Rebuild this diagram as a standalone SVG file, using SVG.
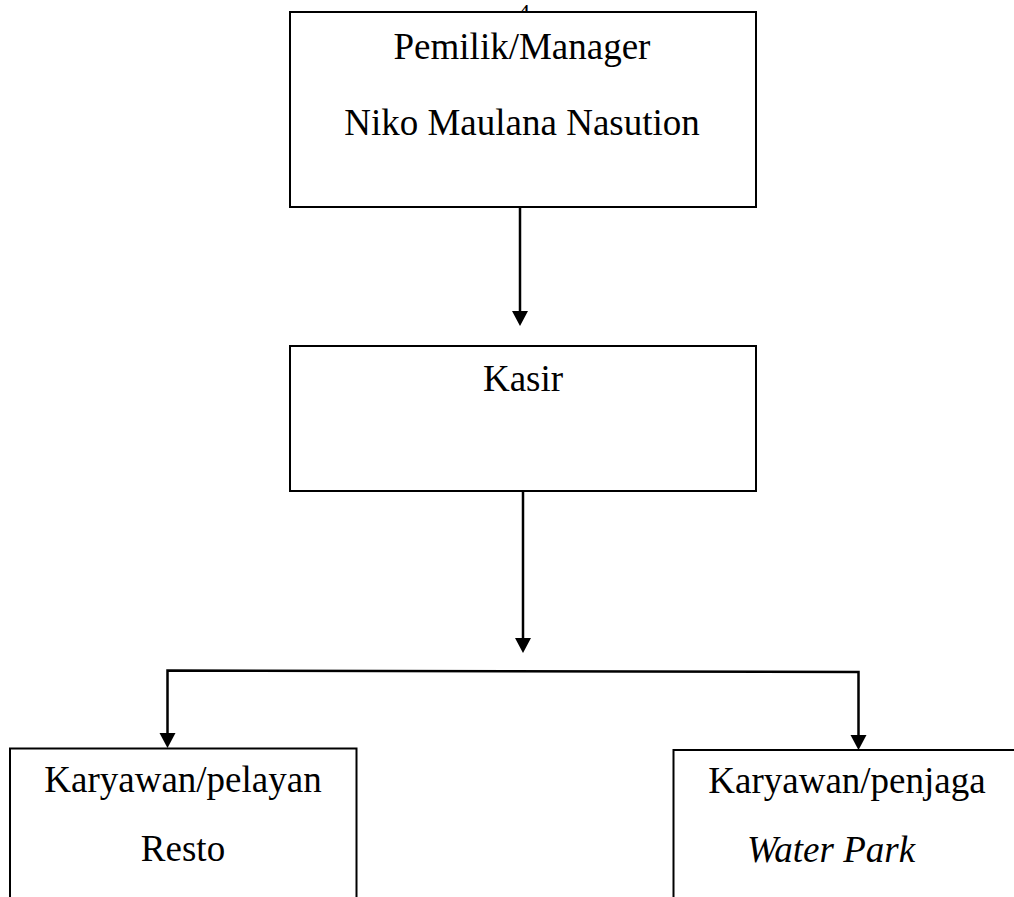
<svg xmlns="http://www.w3.org/2000/svg" width="1014" height="897" viewBox="0 0 1014 897">
<defs>
<style>
.box{fill:#fff;stroke:#000;stroke-width:2}
.t{font-family:"Liberation Serif","Times New Roman",serif;font-size:37px;fill:#000;text-anchor:middle}
.it{font-style:italic}
.c{fill:none;stroke:#000;stroke-width:2.5}
</style>
</defs>
<rect width="1014" height="897" fill="#fff"/>
<text x="524" y="20" style="font-family:'Liberation Serif',serif;font-size:24px" text-anchor="middle">4</text>
<g id="connectors">
<line class="c" x1="520" y1="207" x2="520" y2="311" />
<path d="M512,311 L528,311 L520,326 Z" fill="#000"/>
<line class="c" x1="523" y1="491" x2="523" y2="638" />
<path d="M515,638 L531,638 L523,653 Z" fill="#000"/>
<polyline class="c" points="167.5,733 167.5,670.5 858.5,672 858.5,735" />
<path d="M159.5,733 L175.5,733 L167.5,748 Z" fill="#000"/>
<path d="M850.5,735 L866.5,735 L858.5,750 Z" fill="#000"/>
</g>
<g id="node-pemilik">
<rect class="box" x="290" y="12" width="466" height="195"/>
<text class="t" x="522" y="59">Pemilik/Manager</text>
<text class="t" x="522" y="135">Niko Maulana Nasution</text>
</g>
<g id="node-kasir">
<rect class="box" x="290" y="346" width="466" height="145"/>
<text class="t" x="523" y="391">Kasir</text>
</g>
<g id="node-resto">
<rect class="box" x="10" y="748.5" width="346.5" height="160"/>
<text class="t" x="183" y="792">Karyawan/pelayan</text>
<text class="t" x="183" y="861">Resto</text>
</g>
<g id="node-waterpark">
<rect class="box" x="673.5" y="750" width="360" height="160"/>
<text class="t" x="847" y="793">Karyawan/penjaga</text>
<text class="t it" x="831" y="862">Water Park</text>
</g>
</svg>
